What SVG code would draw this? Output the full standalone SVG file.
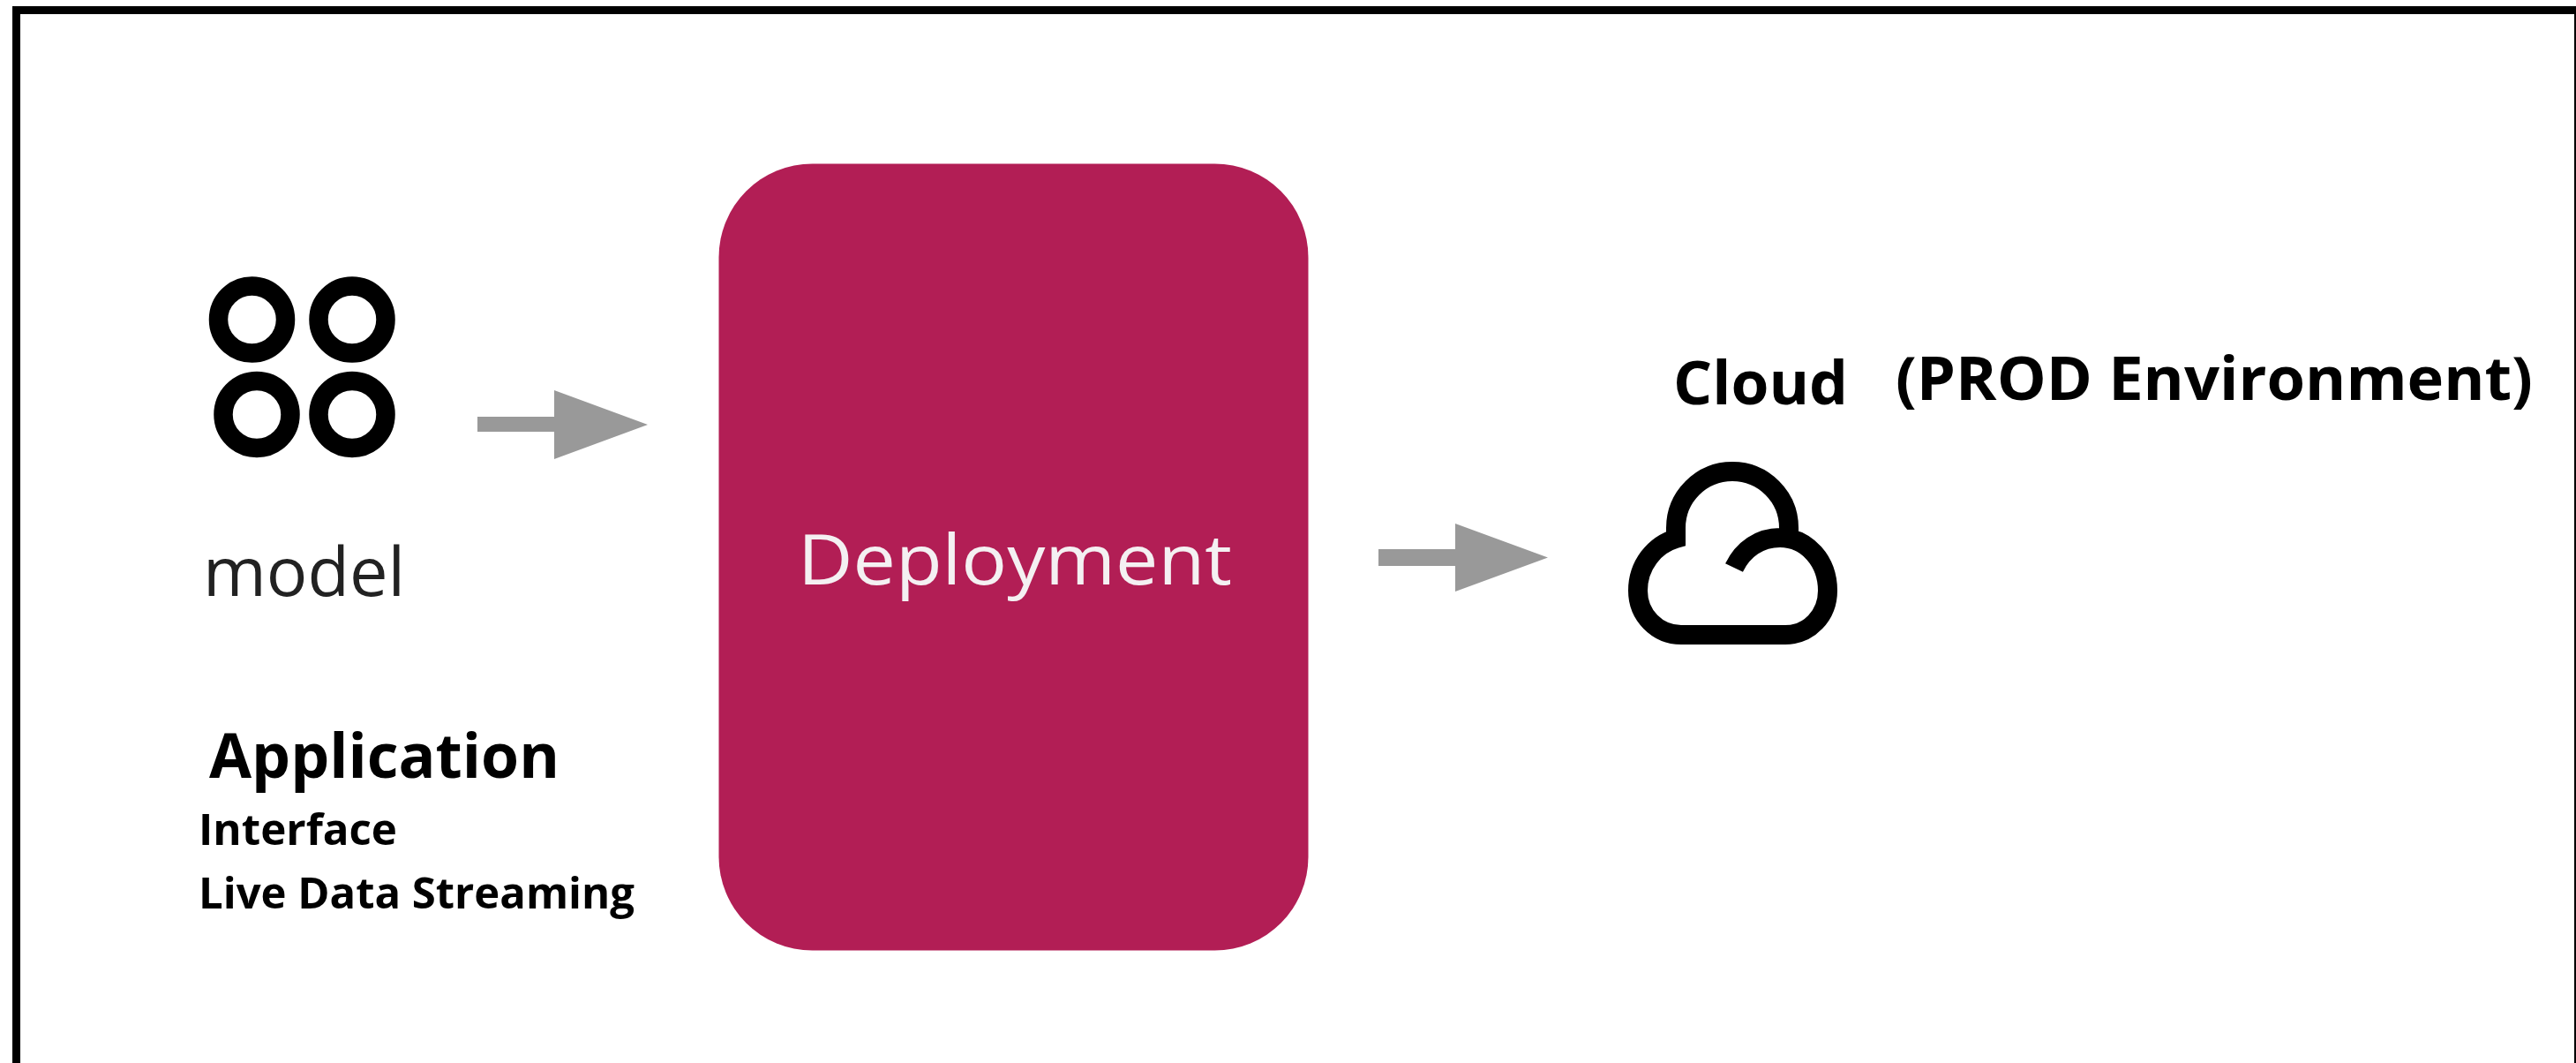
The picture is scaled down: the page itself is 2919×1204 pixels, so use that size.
<svg xmlns="http://www.w3.org/2000/svg" width="2919" height="1204" viewBox="0 0 2919 1204">
<style>
.ring{fill:none;stroke:#000;stroke-width:21.5}
.arrow{fill:#999}
.t{font-family:"Open Sans","Noto Sans",sans-serif}
.b{font-weight:700;fill:#000}
.l{font-weight:400;fill:#222}
</style>
<rect width="2919" height="1204" fill="#fff"/>
<g id="frame" fill="#000">
<rect x="14" y="7" width="2905" height="9"/>
<rect x="14" y="7" width="9" height="1197"/>
<rect x="2917" y="7" width="2" height="1197"/>
</g>
<g id="model">
<circle class="ring" cx="285.500" cy="362" r="38"/>
<circle class="ring" cx="399" cy="362" r="38"/>
<circle class="ring" cx="291" cy="469.500" r="38"/>
<circle class="ring" cx="399" cy="469.500" r="38"/>
<text class="t l" x="230" y="675" font-size="76" textLength="229" lengthAdjust="spacingAndGlyphs">model</text>
</g>
<g id="application">
<text class="t b" x="237" y="881" font-size="70" textLength="397" lengthAdjust="spacingAndGlyphs">Application</text>
<text class="t b" x="225" y="957" font-size="48" textLength="225" lengthAdjust="spacingAndGlyphs">Interface</text>
<text class="t b" x="225" y="1029" font-size="48" textLength="494" lengthAdjust="spacingAndGlyphs">Live Data Streaming</text>
</g>
<g id="deployment">
<rect x="814.500" y="185.500" width="668" height="891" rx="106" ry="106" fill="#b21e55"/>
<text class="t" x="904" y="662" font-size="78" fill="#f4f0f2" font-weight="400" textLength="492" lengthAdjust="spacingAndGlyphs">Deployment</text>
</g>
<g id="cloud">
<path d="M1965 643C1975 622 1994 609 2017 609C2048 609 2071 636 2071 669C2071 697 2050 719 2023 719H1905C1878 719 1856 697 1856 669C1856 640 1875 617 1899 610V598A64 64 0 0 1 2027 598V612" fill="none" stroke="#000" stroke-width="22"/>
<text class="t b" x="1896" y="458" font-size="68" textLength="198" lengthAdjust="spacingAndGlyphs">Cloud</text>
<text class="t b" x="2148" y="453" font-size="68" textLength="722" lengthAdjust="spacingAndGlyphs">(PROD Environment)</text>
</g>
<g id="connectors">
<path class="arrow" d="M541 472H628V442L734 481L628 520V489H541Z"/>
<path class="arrow" d="M1562 622H1649V593L1754 631.500L1649 670V641H1562Z"/>
</g>
</svg>
